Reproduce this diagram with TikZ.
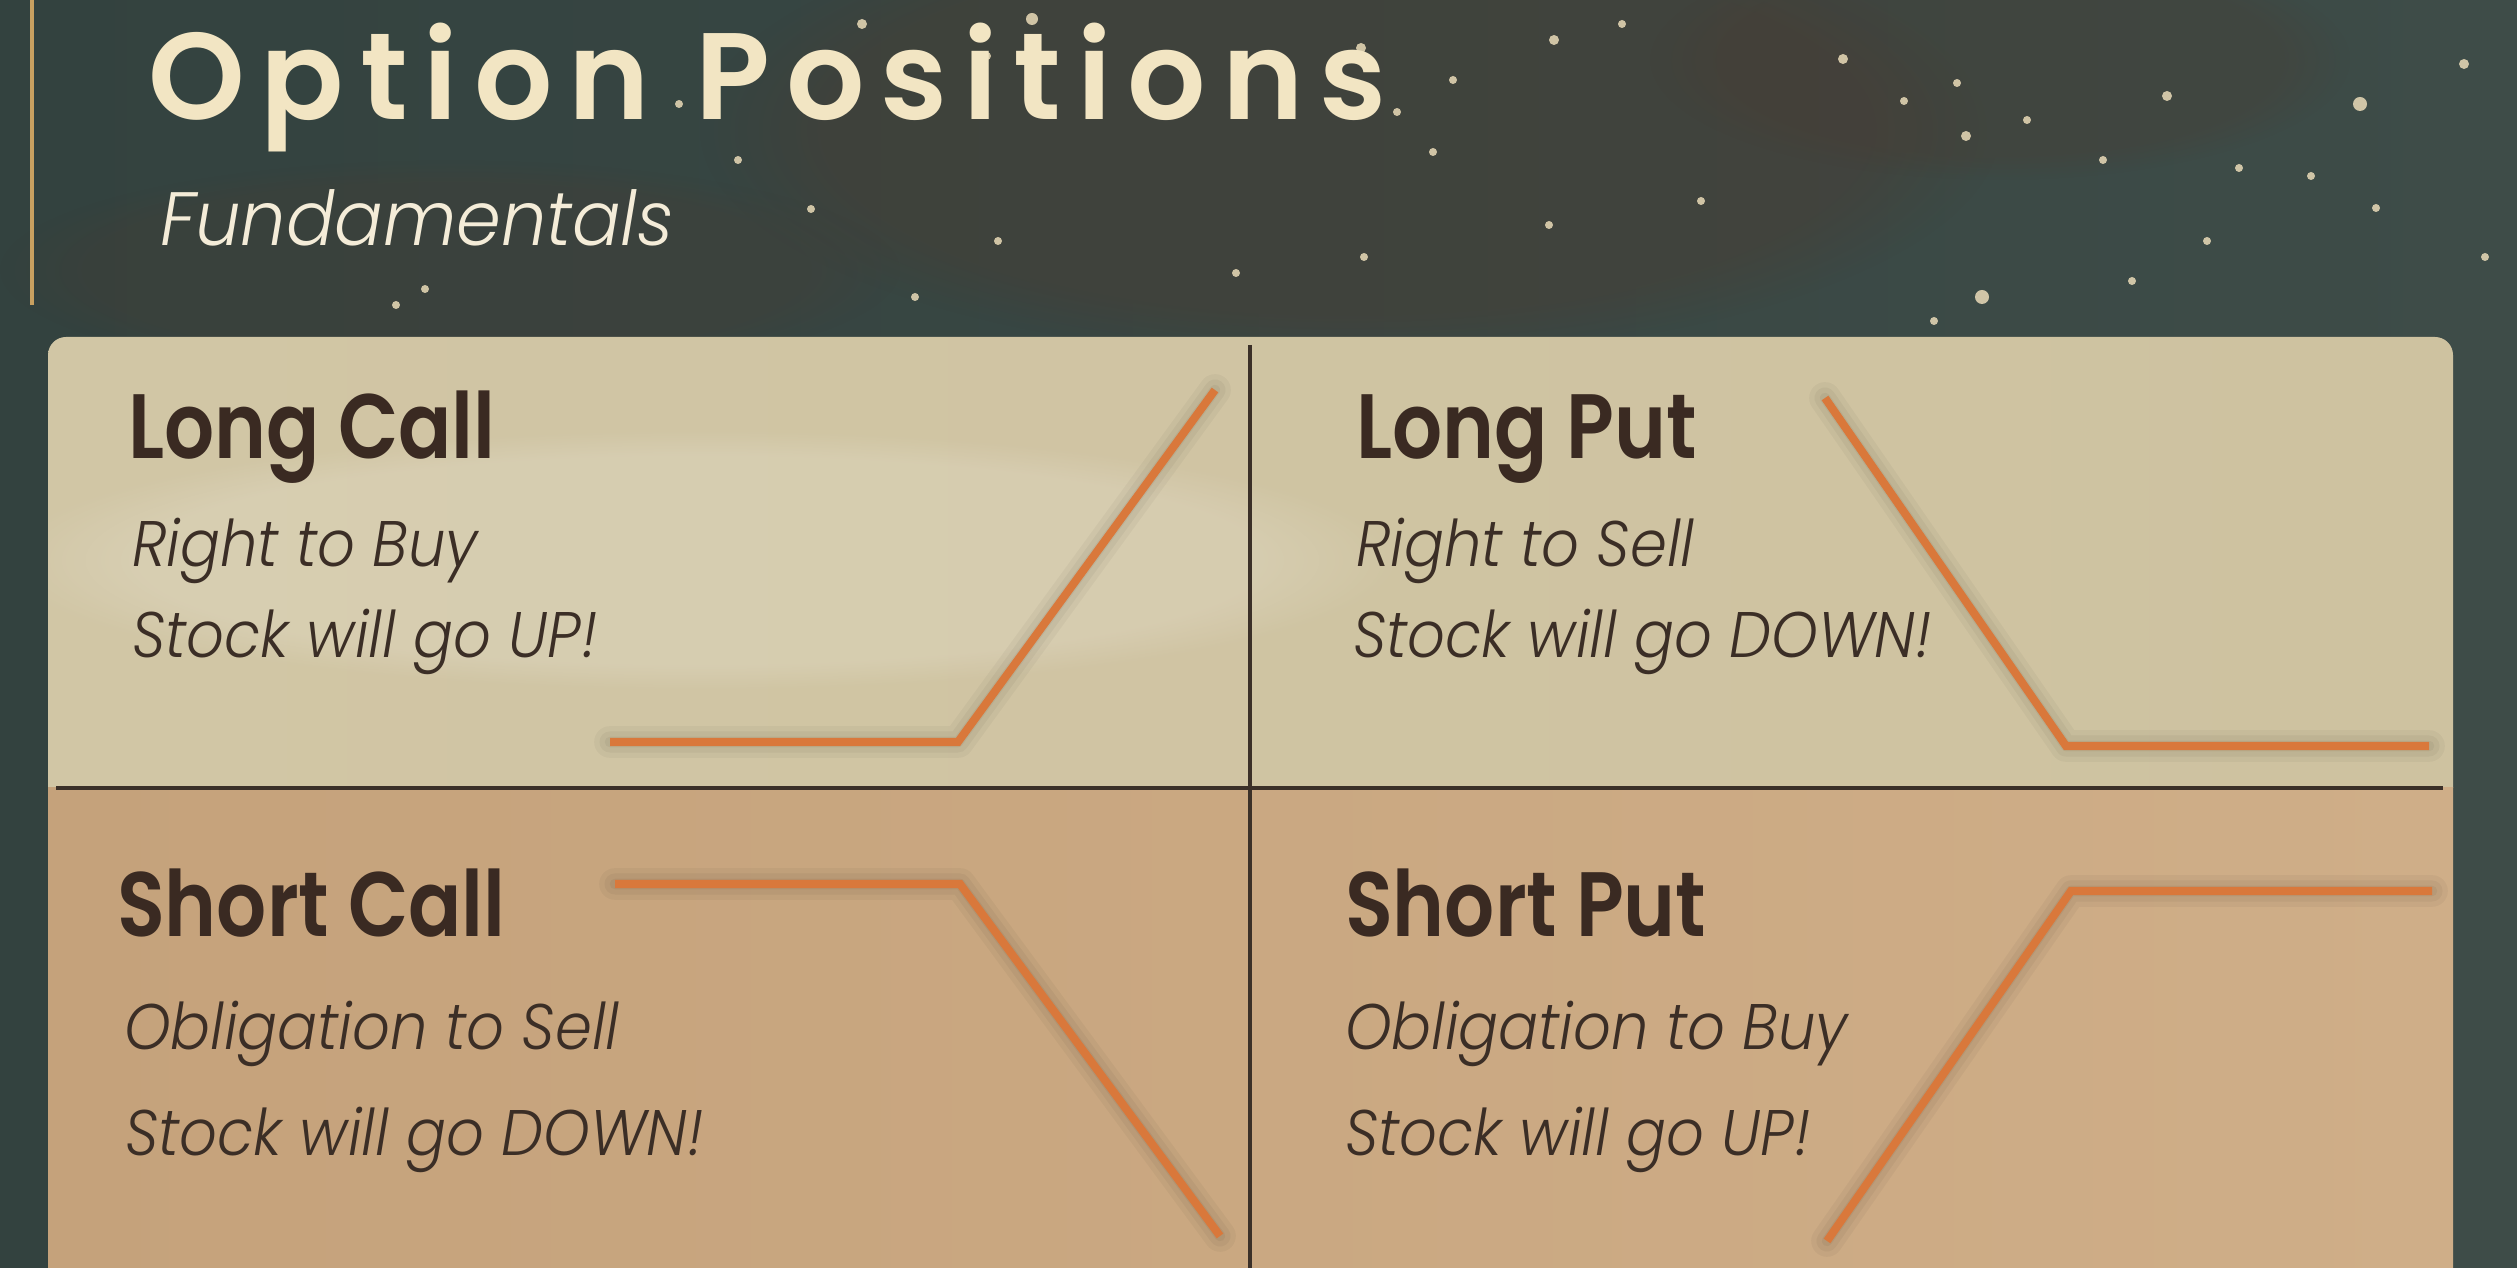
\documentclass[tikz,border=0pt]{standalone}
\usepackage{fontspec}
\setmainfont{Poppins}
\IfFontExistsTF{Poppins SemiBold}
  {\newfontfamily\titlefont[LetterSpace=13]{Poppins SemiBold}}
  {\newfontfamily\titlefont[LetterSpace=13,FakeBold=1.4]{Poppins}}
\IfFontExistsTF{Poppins SemiBold}
  {\newfontfamily\headfont{Poppins SemiBold}}
  {\newfontfamily\headfont{Poppins Bold}}
\IfFontExistsTF{Poppins Light Italic}
  {\newfontfamily\subfont{Poppins Light Italic}}
  {\newfontfamily\subfont{Poppins Italic}}
\usetikzlibrary{fadings}
\definecolor{bgA}{HTML}{33423F}
\definecolor{bgB}{HTML}{3E4C48}
\definecolor{blotch}{HTML}{4A3C32}
\definecolor{titlec}{HTML}{F2E5C3}
\definecolor{subtc}{HTML}{F4ECD8}
\definecolor{topL}{HTML}{D1C6A5}
\definecolor{topR}{HTML}{CEC2A0}
\definecolor{botL}{HTML}{C5A27B}
\definecolor{botR}{HTML}{CFAE88}
\definecolor{headc}{HTML}{3A2A22}
\definecolor{subc}{HTML}{3B2E26}
\definecolor{payoff}{HTML}{D9783B}
\definecolor{divc}{HTML}{3B3028}
\definecolor{goldc}{HTML}{C8A060}
\definecolor{starc}{HTML}{EADBB8}
\newcommand{\hdtxt}[1]{\scalebox{0.86}[1]{#1}}
\newcommand{\sbtxt}[1]{\scalebox{0.92}[1]{#1}}
\tikzset{
  lbl/.style={anchor=base west, inner sep=0pt, outer sep=0pt},
  headtxt/.style={lbl, text=headc, font=\headfont\fontsize{26}{30}\selectfont},
  subtxt/.style={lbl, text=subc, font=\subfont\fontsize{18.3}{22}\selectfont},
  payline/.style={draw=payoff, line width=2.3pt, line join=miter},
  shadowline/.style={draw=black, line join=round, line cap=round},
  divider/.style={draw=divc, line width=0.9pt},
  star/.style={fill=starc, opacity=0.85}
}
\begin{document}
\begin{tikzpicture}[x=0.01cm,y=-0.01cm]
\useasboundingbox (0,0) rectangle (2517,1268);
% background
\shade[left color=bgA, right color=bgB] (0,0) rectangle (2517,1268);
\fill[blotch, opacity=0.4, path fading=circle with fuzzy edge 20 percent] (1350,130) ellipse (650 and 230);
\fill[blotch, opacity=0.25, path fading=circle with fuzzy edge 20 percent] (450,270) ellipse (450 and 110);
\fill[blotch, opacity=0.3, path fading=circle with fuzzy edge 20 percent] (2000,60) ellipse (350 and 120);
% stars
\foreach \sx/\sy/\sr in {862/24/5,987/56/4,1032/19/6,1361/48/5,1397/112/4,1453/80/4,1554/40/5,1622/24/4,1843/59/5,1904/101/4,1957/83/4,1966/136/5,2027/120/4,2103/160/4,2167/96/5,2239/168/4,2311/176/4,2360/104/7,2376/208/4,2464/64/5,2485/257/4,2207/241/4,2132/281/4,1982/297/7,1934/321/4,1701/201/4,1549/225/4,1433/152/4,1364/257/4,998/241/4,915/297/4,811/209/4,738/160/4,679/104/4,396/305/4,425/289/4,88/345/4,1236/273/4,1926/398/5,1894/441/4,1819/586/4,2392/385/4,1766/425/4,1985/505/3,2080/490/3,2215/410/3}
  \fill[star] (\sx,\sy) circle (\sr);
% gold accent line
\draw[goldc, line width=1.2pt] (32,0) -- (32,305);
% title
\node[lbl, text=titlec, font=\titlefont\fontsize{35}{40}\selectfont] (title) at (148,120) {Option Positions};
\node[lbl, text=subtc, font=\subfont\fontsize{21.5}{25}\selectfont] (subtitle) at (160,246) {\scalebox{0.95}[1]{Fundamentals}};
% panel
\begin{scope}
\clip[rounded corners=0.18cm] (48,337) rectangle (2453,1340);
\shade[left color=topL, right color=topR] (48,337) rectangle (2453,788);
\fill[white, opacity=0.14, path fading=circle with fuzzy edge 20 percent] (700,560) ellipse (700 and 130);
\shade[left color=botL, right color=botR] (48,788) rectangle (2453,1340);
\end{scope}
% dividers
\coordinate (hL) at (56,788);
\coordinate (hR) at (2443,788);
\coordinate (vT) at (1250,345);
\coordinate (vB) at (1250,1268);
\draw[divider] (hL) -- (hR);
\draw[divider] (vT) -- (vB);
% payoff coordinates
\coordinate (lc1) at (610,742); \coordinate (lc2) at (958,742); \coordinate (lc3) at (1215,390);
\coordinate (lp1) at (1825,398); \coordinate (lp2) at (2066,746); \coordinate (lp3) at (2429,746);
\coordinate (sc1) at (615,884); \coordinate (sc2) at (960,884); \coordinate (sc3) at (1220,1236);
\coordinate (sp1) at (1827,1241); \coordinate (sp2) at (2071,891); \coordinate (sp3) at (2432,891);
% shadows
\foreach \w/\o in {9pt/0.035,6pt/0.04,3pt/0.045}{
  \begin{scope}[shift={(32,36)}]
  \draw[shadowline, line width=\w, opacity=\o] (lc1) -- (lc2) -- (lc3);
  \draw[shadowline, line width=\w, opacity=\o] (lp1) -- (lp2) -- (lp3);
  \draw[shadowline, line width=\w, opacity=\o] (sc1) -- (sc2) -- (sc3);
  \draw[shadowline, line width=\w, opacity=\o] (sp1) -- (sp2) -- (sp3);
  \end{scope}
}
% payoff lines
\draw[payline] (lc1) -- (lc2) -- (lc3);
\draw[payline] (lp1) -- (lp2) -- (lp3);
\draw[payline] (sc1) -- (sc2) -- (sc3);
\draw[payline] (sp1) -- (sp2) -- (sp3);
% texts
\node[headtxt] (lch) at (128,459) {\hdtxt{Long Call}};
\node[subtxt] (lc1t) at (132,567) {\sbtxt{Right to Buy}};
\node[subtxt] (lc2t) at (132,658) {\sbtxt{Stock will go UP!}};
\node[headtxt] (lph) at (1356,459) {\hdtxt{Long Put}};
\node[subtxt] (lp1t) at (1356,567) {\sbtxt{Right to Sell}};
\node[subtxt] (lp2t) at (1353,658) {\sbtxt{Stock will go DOWN!}};
\node[headtxt] (sch) at (117,937) {\hdtxt{Short Call}};
\node[subtxt] (sc1t) at (124,1050) {\sbtxt{Obligation to Sell}};
\node[subtxt] (sc2t) at (125,1156) {\sbtxt{Stock will go DOWN!}};
\node[headtxt] (sph) at (1345,937) {\hdtxt{Short Put}};
\node[subtxt] (sp1t) at (1345,1050) {\sbtxt{Obligation to Buy}};
\node[subtxt] (sp2t) at (1345,1156) {\sbtxt{Stock will go UP!}};
\end{tikzpicture}
\end{document}
